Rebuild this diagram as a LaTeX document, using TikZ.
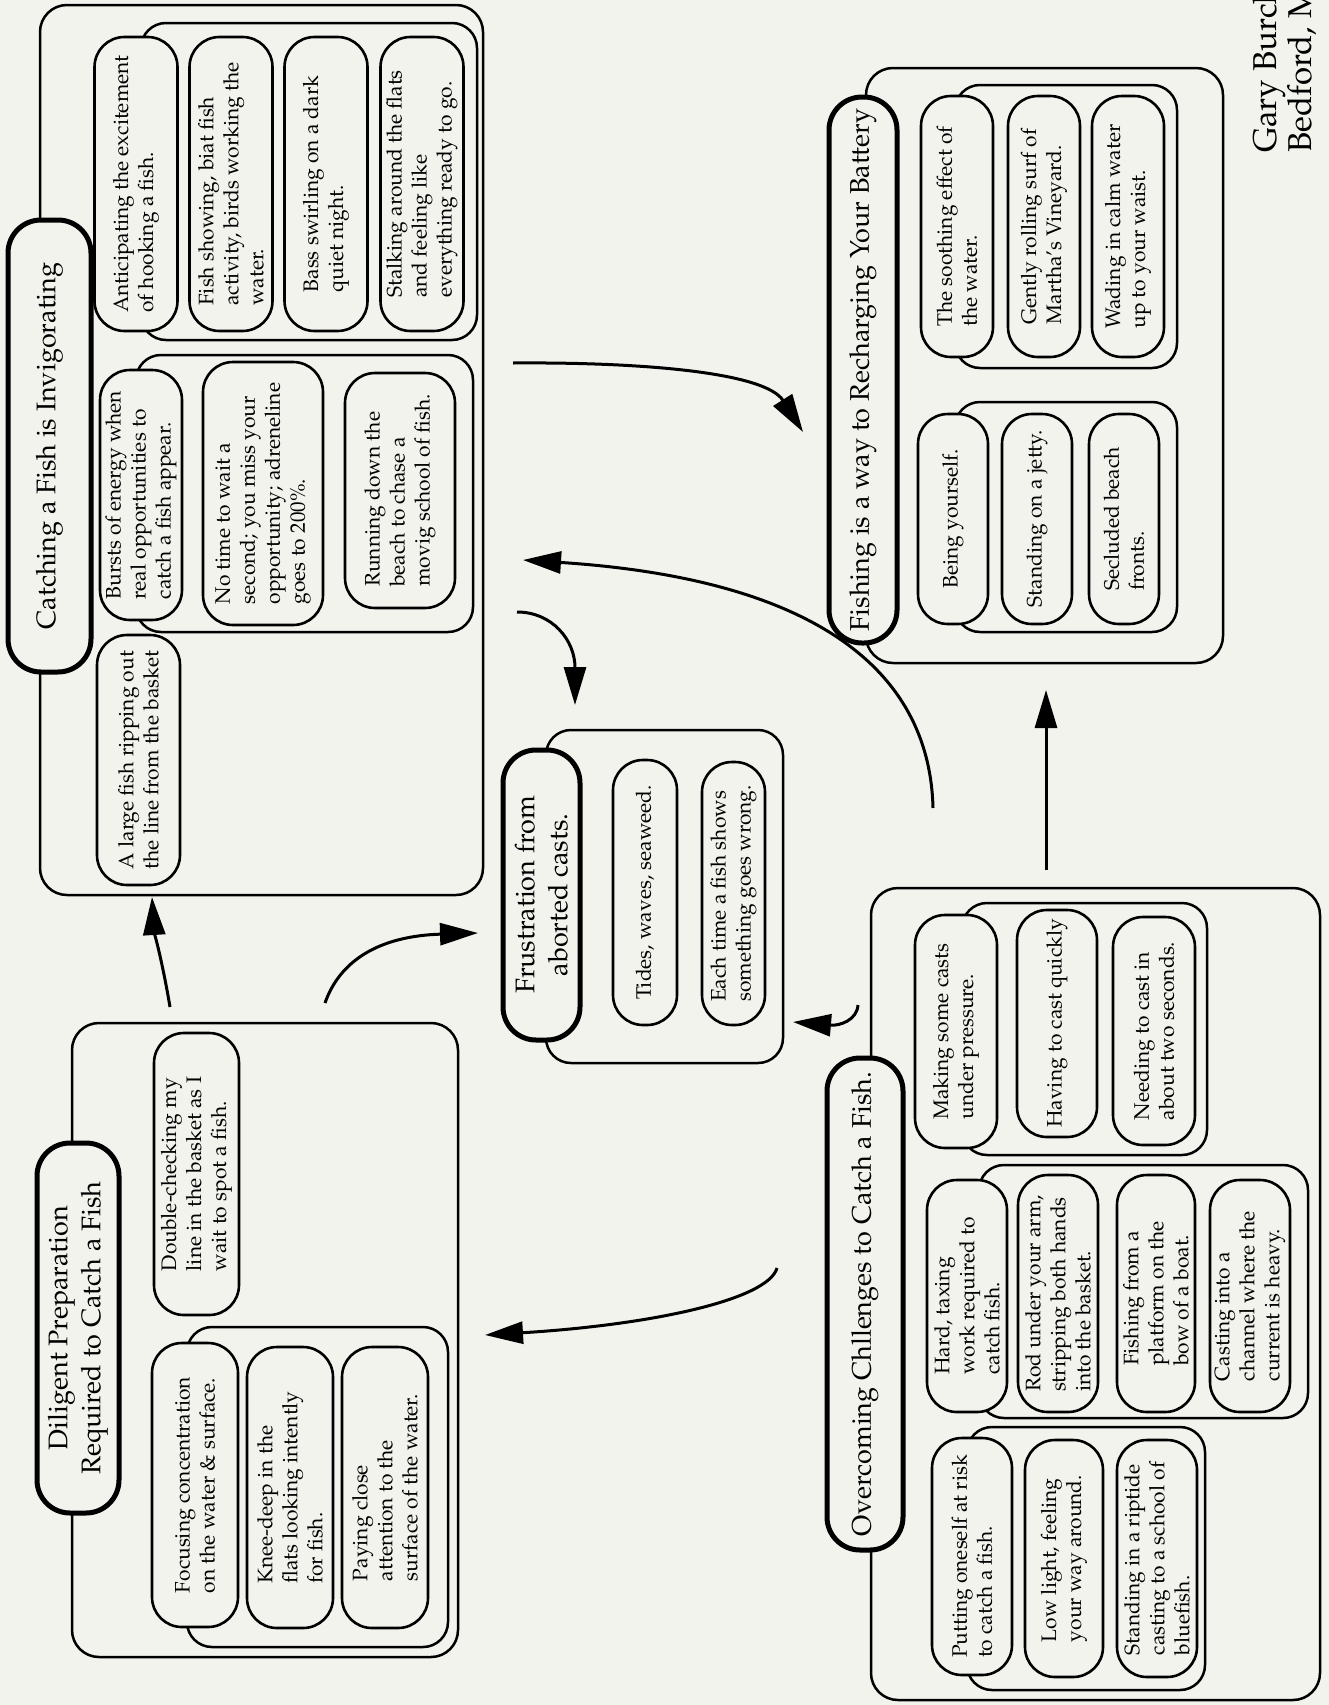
\documentclass[tikz,border=0pt]{standalone}
\usepackage[T1]{fontenc}
\usepackage{mathpazo}
\usepackage{tikz}
\usetikzlibrary{arrows.meta}
\definecolor{paper}{RGB}{243,243,238}

\begin{document}
\begin{tikzpicture}[x=1pt, y=-1pt,
    outerbox/.style={draw, line width=2.5pt, rounded corners=27pt, fill=paper, inner sep=0pt},
    backbox/.style={draw, line width=2.5pt, rounded corners=25pt, fill=paper, inner sep=0pt},
    item/.style={draw, line width=2.6pt, rounded corners=30pt, fill=paper, rotate=90, align=left, inner sep=0pt, font=\fontsize{21}{25}\selectfont},
    headline/.style={draw, line width=5pt, rounded corners=33pt, fill=paper, rotate=90, align=center, inner sep=0pt, font=\fontsize{27}{33}\selectfont},
    link/.style={line width=3pt, -{Triangle[length=38pt, width=22pt]}}]

\fill[paper] (0,0) rectangle (1329,1705);
\useasboundingbox (0,0) rectangle (1329,1705);

% catching a fish
\node[outerbox, minimum width=443pt, minimum height=890pt] (catch) at (261.5,450) {};
\node[backbox, minimum width=336pt, minimum height=317pt] (catchA) at (309,181.5) {};
\node[backbox, minimum width=337pt, minimum height=277pt] (catchB) at (304.5,493.5) {};
\node[item, minimum width=294pt, minimum height=83pt] (anticip) at (136,184) {Anticipating the excitement\\of hooking a fish.};
\node[item, minimum width=294pt, minimum height=83pt] (showing) at (231,184) {Fish showing, biat fish\\activity, birds working the\\water.};
\node[item, minimum width=294pt, minimum height=83pt] (bass) at (326,184) {Bass swirling on a dark\\quiet night.};
\node[item, minimum width=294pt, minimum height=83pt] (stalk) at (422,184) {Stalking around the flats\\and feeling like\\everything ready to go.};
\node[item, minimum width=250pt, minimum height=82pt] (bursts) at (141,495) {Bursts of energy when\\real opportunities to\\catch a fish appear.};
\node[item, minimum width=263pt, minimum height=120pt] (notime) at (263,493.5) {No time to wait a\\second; you miss your\\opportunity; adreneline\\goes to 200\%.};
\node[item, minimum width=235pt, minimum height=110pt] (running) at (400,490.5) {Running down the\\beach to chase a\\movig school of fish.};
\node[item, minimum width=250pt, minimum height=83pt] (large) at (138.5,760) {A large fish ripping out\\the line from the basket};
\node[headline, minimum width=452pt, minimum height=83pt] (catchT) at (49.5,446) {Catching a Fish is Invigorating};

% recharging
\node[outerbox, minimum width=357pt, minimum height=595pt] (recharge) at (1044.5,365.5) {};
\node[backbox, minimum width=222pt, minimum height=283pt] (rechA) at (1066,226.5) {};
\node[backbox, minimum width=222pt, minimum height=230pt] (rechB) at (1066,517) {};
\node[item, minimum width=261pt, minimum height=72pt] (sooth) at (957,226.5) {The soothing effect of\\the water.};
\node[item, minimum width=261pt, minimum height=72pt] (surf) at (1044,226.5) {Gently rolling surf of\\Martha's Vineyard.};
\node[item, minimum width=261pt, minimum height=72pt] (wade) at (1128,226.5) {Wading in calm water\\up to your waist.};
\node[item, minimum width=210pt, minimum height=70pt] (self) at (953,519) {Being yourself.};
\node[item, minimum width=210pt, minimum height=70pt] (jetty) at (1037,519) {Standing on a jetty.};
\node[item, minimum width=210pt, minimum height=70pt] (beach) at (1124,519) {Secluded beach\\fronts.};
\node[headline, minimum width=546pt, minimum height=68pt] (rechT) at (863,370) {Fishing is a way to Recharging Your Battery};

% frustration
\node[backbox, minimum width=237pt, minimum height=333pt] (frustB) at (664.5,896.5) {};
\node[item, minimum width=265pt, minimum height=64pt] (tides) at (645,892.5) {Tides, waves, seaweed.};
\node[item, minimum width=263pt, minimum height=63pt] (eachtime) at (733.5,893.5) {Each time a fish shows\\something goes wrong.};
\node[headline, minimum width=290pt, minimum height=77pt] (frustT) at (541.5,895) {Frustration from\\aborted casts.};

% preparation
\node[outerbox, minimum width=386pt, minimum height=634pt] (prep) at (265,1340) {};
\node[backbox, minimum width=261pt, minimum height=320pt] (prepB) at (317.5,1487) {};
\node[item, minimum width=282pt, minimum height=85pt] (double) at (196.5,1174) {Double-checking my\\line in the basket as I\\wait to spot a fish.};
\node[item, minimum width=284pt, minimum height=86pt] (focus) at (195,1485) {Focusing concentration\\on the water \& surface.};
\node[item, minimum width=281pt, minimum height=86pt] (knee) at (290,1487.5) {Knee-deep in the\\flats looking intently\\for fish.};
\node[item, minimum width=281pt, minimum height=86pt] (paying) at (385,1487.5) {Paying close\\attention to the\\surface of the water.};
\node[headline, minimum width=370pt, minimum height=82pt] (prepT) at (78,1328) {Diligent Preparation\\Required to Catch a Fish};

% overcoming
\node[outerbox, minimum width=449pt, minimum height=812pt] (overcome) at (1095.5,1294) {};
\node[backbox, minimum width=245pt, minimum height=252pt] (overA) at (1084.5,1029) {};
\node[backbox, minimum width=329pt, minimum height=253pt] (overB) at (1143.5,1291.5) {};
\node[backbox, minimum width=238pt, minimum height=263pt] (overC) at (1086,1558.5) {};
\node[item, minimum width=233pt, minimum height=82pt] (pressure) at (956,1031.5) {Making some casts\\under pressure.};
\node[item, minimum width=227pt, minimum height=80pt] (quickly) at (1057,1023.5) {Having to cast quickly};
\node[item, minimum width=228pt, minimum height=82pt] (twosec) at (1154,1031) {Needing to cast in\\about two seconds.};
\node[item, minimum width=232pt, minimum height=80pt] (hard) at (967,1296) {Hard, taxing\\work required to\\catch fish.};
\node[item, minimum width=237pt, minimum height=80pt] (rod) at (1058,1293.5) {Rod under your arm,\\stripping both hands\\into the basket.};
\node[item, minimum width=237pt, minimum height=78pt] (boat) at (1156,1293.5) {Fishing from a\\platform on the\\bow of a boat.};
\node[item, minimum width=232pt, minimum height=80pt] (channel) at (1250,1296) {Casting into a\\channel where the\\current is heavy.};
\node[item, minimum width=237pt, minimum height=80pt] (risk) at (972,1556.5) {Putting oneself at risk\\to catch a fish.};
\node[item, minimum width=237pt, minimum height=78pt] (lowlight) at (1064,1558.5) {Low light, feeling\\your way around.};
\node[item, minimum width=237pt, minimum height=80pt] (riptide) at (1157,1558.5) {Standing in a riptide\\casting to a school of\\bluefish.};
\node[headline, minimum width=492pt, minimum height=76pt] (overT) at (865,1304) {Overcoming Chllenges to Catch a Fish.};

\begin{scope}
\clip (0,0) rectangle (1329,1705);
\node[rotate=90, anchor=base west, inner sep=0pt, font=\fontsize{33}{37}\selectfont] (gary) at (1276,153) {Gary Burch};
\node[rotate=90, anchor=base west, inner sep=0pt, font=\fontsize{33}{37}\selectfont] (bedford) at (1311,153) {Bedford, M};
\end{scope}

% arrows
\coordinate (prepUp) at (170,1007);
\coordinate (catchIn) at (152,897);
\coordinate (prepOut) at (325,1003);
\coordinate (frustIn) at (478,933);
\coordinate (catchOut) at (517,612);
\coordinate (frustTop) at (575,705);
\coordinate (overUp) at (933,808);
\coordinate (catchBack) at (523,560);
\coordinate (catchRight) at (513,363);
\coordinate (rechIn) at (803,432);
\coordinate (overTop) at (1046,870);
\coordinate (rechBottom) at (1046,690);
\coordinate (overLeft) at (858,1005);
\coordinate (frustRight) at (793,1022);
\coordinate (overDown) at (777,1268);
\coordinate (prepIn) at (485,1335);

\draw[link] (prepUp) .. controls (163,965) and (154,930) .. (catchIn);
\draw[link] (prepOut) .. controls (340,960) and (380,936) .. (frustIn);
\draw[link] (catchOut) .. controls (552,612) and (575,640) .. (frustTop);
\draw[link] (overUp) .. controls (930,680) and (830,580) .. (catchBack);
\draw[link] (catchRight) .. controls (640,362) and (765,372) .. (rechIn);
\draw[link] (overTop) -- (rechBottom);
\draw[link] (overLeft) .. controls (857,1020) and (840,1026) .. (frustRight);
\draw[link] (overDown) .. controls (768,1300) and (650,1325) .. (prepIn);
\end{tikzpicture}
\end{document}
